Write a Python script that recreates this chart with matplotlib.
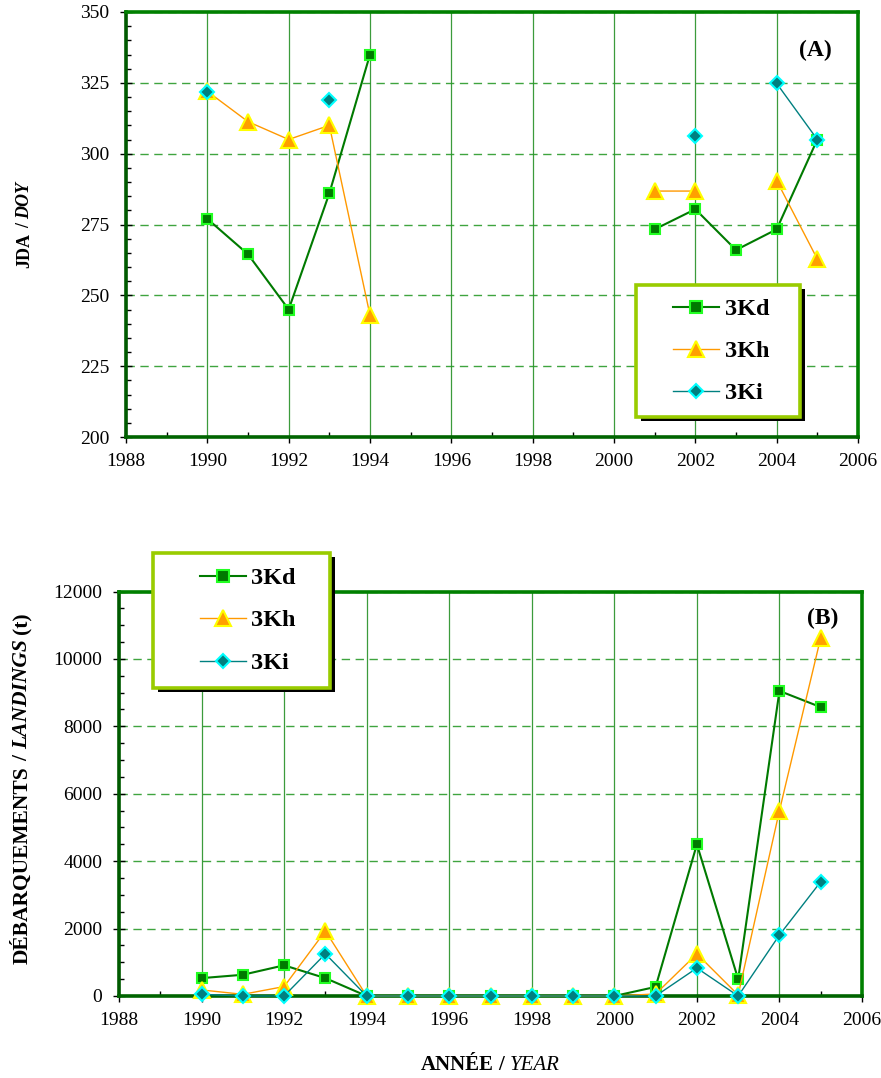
import numpy as np
import matplotlib
matplotlib.use("Agg")
import matplotlib.pyplot as plt
from matplotlib.transforms import IdentityTransform
from matplotlib.ticker import MultipleLocator
from matplotlib.lines import Line2D
from matplotlib.patches import Rectangle

plt.rcParams['font.family'] = ['Liberation Serif', 'DejaVu Serif']

# ---- data -------------------------------------------------------------
years = [1990, 1991, 1992, 1993, 1994, 1995, 1996, 1997,
         1998, 1999, 2000, 2001, 2002, 2003, 2004, 2005]
nan = np.nan

# (A) day of year
doy_3kd = [277, 264.5, 245, 286, 335, nan, nan, nan, nan, nan, nan,
           273.3, 280.4, 266, 273.3, 305]
doy_3kh = [322, 311.3, 305, 310, 243, nan, nan, nan, nan, nan, nan,
           286.8, 286.8, nan, 290.5, 262.8]
doy_3ki = [321.7, nan, nan, 319, nan, nan, nan, nan, nan, nan, nan,
           nan, 306.2, nan, 324.8, 305]

# (B) landings (t)
land_3kd = [530, 630, 910, 530, 0, 0, 0, 0, 0, 0, 0, 270, 4500, 500, 9050, 8570]
land_3kh = [180, 50, 280, 1930, 0, 0, 0, 0, 0, 0, 0, 60, 1250, 30, 5500, 10630]
land_3ki = [50, 0, 0, 1250, 0, 0, 0, 0, 0, 0, 0, 0, 830, 0, 1810, 3390]

series_labels = ['3Kd', '3Kh', '3Ki']

# ---- styles -----------------------------------------------------------
styles = {
    '3Kd': dict(color='#007a00', lw=1.5, marker='s', ms=7.5, mfc='#007a00',
                mec='#22ff22', mew=1.5),
    '3Kh': dict(color='#ff9900', lw=1.0, marker='^', ms=11, mfc='#ff9f00',
                mec='#ffff00', mew=1.5),
    '3Ki': dict(color='#008080', lw=1.0, marker='D', ms=7.0, mfc='#008080',
                mec='#00ffff', mew=1.5),
}

W, H = 881, 1078
fig = plt.figure(figsize=(W / 100, H / 100), dpi=100)

ax_a = fig.add_axes([126 / W, 1 - 437 / H, 732 / W, 425 / H])
ax_b = fig.add_axes([119 / W, 1 - 996 / H, 743 / W, 404.5 / H])

TICK_FS = 14


def style_axes(ax, ymin, ymax, ymajor, yminor):
    ax.set_xlim(1988, 2006)
    ax.set_ylim(ymin, ymax)
    ax.xaxis.set_major_locator(MultipleLocator(2))
    ax.xaxis.set_minor_locator(MultipleLocator(1))
    ax.yaxis.set_major_locator(MultipleLocator(ymajor))
    ax.yaxis.set_minor_locator(MultipleLocator(yminor))
    ax.tick_params(axis='x', which='major', direction='out', length=4.5,
                   width=1, color='black', labelsize=TICK_FS, pad=7)
    ax.tick_params(axis='x', which='minor', direction='in', length=3.5,
                   width=1, color='black')
    ax.tick_params(axis='y', which='major', direction='inout', length=8,
                   width=1, color='black', labelsize=TICK_FS, pad=8)
    ax.tick_params(axis='y', which='minor', direction='in', length=3.5,
                   width=1, color='black')
    for lab in ax.get_xticklabels() + ax.get_yticklabels():
        lab.set_family('Liberation Serif')
    # vertical solid grid, horizontal dashed grid
    ax.xaxis.grid(True, which='major', color='#1a8a1a', lw=0.9, ls='-', alpha=0.85)
    ax.yaxis.grid(True, which='major', color='#2a9a2a', lw=1.0,
                  ls=(0, (6, 4)), alpha=0.9)
    ax.set_axisbelow(True)
    ax.spines['left'].set_color('#005a00')
    ax.spines['bottom'].set_color('#006400')
    ax.spines['top'].set_color('#008000')
    ax.spines['right'].set_color('#008000')
    for sp in ax.spines.values():
        sp.set_linewidth(2.6)


style_axes(ax_a, 200, 350, 25, 5)
style_axes(ax_b, 0, 12000, 2000, 500)

for lab, vals in zip(series_labels, [doy_3kd, doy_3kh, doy_3ki]):
    ax_a.plot(years, vals, label=lab, zorder=3, **styles[lab])
for lab, vals in zip(series_labels, [land_3kd, land_3kh, land_3ki]):
    ax_b.plot(years, vals, label=lab, zorder=3, clip_on=False, **styles[lab])

ax_a.text(2004.95, 336.5, '(A)', fontsize=17, fontweight='bold',
          ha='center', va='center', family='Liberation Serif')
ax_b.text(2005.05, 11200, '(B)', fontsize=17, fontweight='bold',
          ha='center', va='center', family='Liberation Serif')


# ---- boxed legends (pixel layout, origin top-left) ----------------------
def px(x, y):
    return x, H - y


def draw_legend(box, handle_x, text_x, rows):
    x0, y0, x1, y1 = box
    shadow = Rectangle(px(x0 + 5, y1 + 4), x1 - x0, y1 - y0,
                       transform=IdentityTransform(), facecolor='black',
                       edgecolor='black', lw=0, zorder=20)
    frame = Rectangle(px(x0, y1), x1 - x0, y1 - y0,
                      transform=IdentityTransform(), facecolor='white',
                      edgecolor='#99cc00', lw=2.6, zorder=21)
    fig.add_artist(shadow)
    fig.add_artist(frame)
    for lab, ry in zip(series_labels, rows):
        st = styles[lab]
        fig.add_artist(Line2D([handle_x[0], handle_x[1]], [H - ry, H - ry],
                              transform=IdentityTransform(), color=st['color'],
                              lw=st['lw'], zorder=22))
        fig.add_artist(Line2D([(handle_x[0] + handle_x[1]) / 2], [H - ry],
                              transform=IdentityTransform(), ls='none',
                              marker=st['marker'], ms=st['ms'] + 0.5,
                              mfc=st['mfc'], mec=st['mec'], mew=st['mew'],
                              zorder=23))
        fig.text(text_x, H - ry, lab, transform=IdentityTransform(),
                 fontsize=17.5, fontweight='bold', family='Liberation Serif',
                 ha='left', va='center_baseline', zorder=24)


draw_legend((636, 285, 800, 417), (673, 719), 725, (307, 349, 391))
draw_legend((153, 553, 330, 688), (200, 246), 251, (576, 618, 661))

# ---- axis titles with mixed bold / italic pieces ------------------------
renderer = fig.canvas.get_renderer()


def mixed_label(pieces, cx, cy, size, vertical):
    em = size * 100 / 72
    gap = 0.25 * em
    texts, widths = [], []
    for s, st, wt in pieces:
        t = fig.text(0, 0, s, transform=IdentityTransform(), fontsize=size,
                     style=st, weight=wt, family='Liberation Serif',
                     ha='left', va='baseline')
        widths.append(t.get_window_extent(renderer).width)
        texts.append(t)
    total = sum(widths) + gap * (len(texts) - 1)
    pos = -total / 2
    cap = 0.66 * em
    for t, w in zip(texts, widths):
        if vertical:
            t.set_rotation(90)
            t.set_rotation_mode('anchor')
            t.set_position((cx + cap / 2, cy + pos))
        else:
            t.set_position((cx + pos, cy - cap / 2))
        pos += w + gap


mixed_label([('JDA', 'normal', 'bold'), ('/', 'normal', 'bold'),
             ('DOY', 'italic', 'bold')], 23, H - 225, 13, True)
mixed_label([('DÉBARQUEMENTS', 'normal', 'bold'), ('/', 'normal', 'bold'),
             ('LANDINGS', 'italic', 'bold'), ('(t)', 'normal', 'bold')],
            20, H - 788, 15.5, True)
mixed_label([('ANNÉE', 'normal', 'bold'), ('/', 'normal', 'bold'),
             ('YEAR', 'italic', 'normal')], 490, H - 1063, 15, False)

fig.savefig('out.png', dpi=100)
